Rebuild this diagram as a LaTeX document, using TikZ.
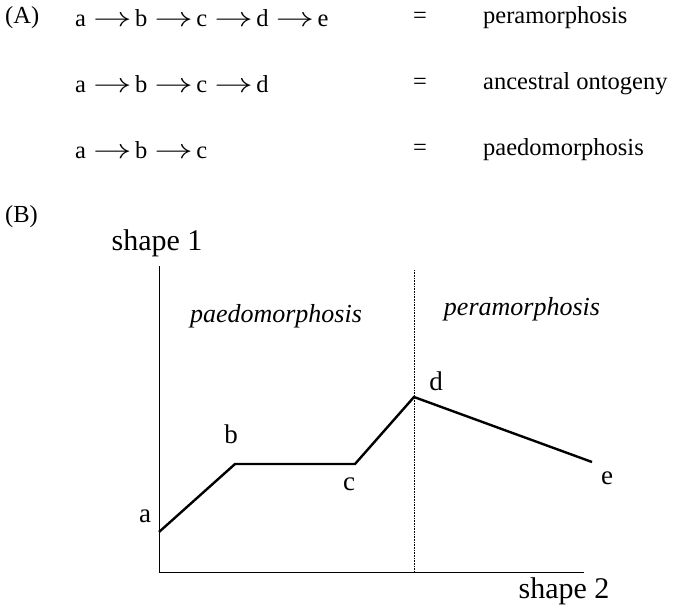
\documentclass[tikz,border=0pt]{standalone}
\usepackage{fontspec}
\setmainfont{Liberation Serif}
\newcommand{\myarr}{\hspace{7pt}\scalebox{1.55}[1.1]{$\rightarrow$}\hspace{3.5pt}}
\begin{document}
\begin{tikzpicture}[x=1pt,y=-1pt,
  txt/.style={inner sep=0pt,font=\fontsize{24.5}{28}\selectfont},
  lbl/.style={inner sep=0pt,font=\fontsize{27}{30}\selectfont},
  axl/.style={inner sep=0pt,font=\fontsize{30}{34}\selectfont},
  itl/.style={inner sep=0pt,font=\fontsize{26}{30}\selectfont\itshape},
  curve/.style={line width=2.4pt,line join=miter},
  axis/.style={line width=0.9pt}]
\useasboundingbox (0,0) rectangle (678,611);
% Part A
\node[txt,anchor=west] (A) at (5,18) {(A)};
\node[txt,anchor=west] (r1) at (75,18) {a\myarr b\myarr c\myarr d\myarr e};
\node[txt,anchor=west] (r2) at (75,84) {a\myarr b\myarr c\myarr d};
\node[txt,anchor=west] (r3) at (75,150) {a\myarr b\myarr c};
\node[txt] (e1) at (420,18) {=};
\node[txt] (e2) at (420,84) {=};
\node[txt] (e3) at (420,150) {=};
\node[txt,anchor=west] (t1) at (483,18) {peramorphosis};
\node[txt,anchor=west] (t2) at (483,84) {ancestral ontogeny};
\node[txt,anchor=west] (t3) at (483,150) {paedomorphosis};
% Part B
\node[txt,anchor=west] (B) at (5,217) {(B)};
\node[axl,anchor=base] (s1) at (157,250) {shape 1};
\node[axl,anchor=base] (s2) at (564,598) {shape 2};
\coordinate (top) at (159,266);
\coordinate (orig) at (159,572);
\coordinate (right) at (584,572);
\coordinate (dtop) at (414,270);
\coordinate (dbot) at (414,572);
\draw[axis] (top) -- (orig) -- (right);
\draw[densely dotted,line width=0.6pt] (dtop) -- (dbot);
\node[itl,anchor=base] (pae) at (276,322) {paedomorphosis};
\node[itl,anchor=base] (per) at (522,315) {peramorphosis};
\coordinate (a) at (159,532);
\coordinate (b) at (235,464);
\coordinate (c) at (355,464);
\coordinate (d) at (414,397);
\coordinate (e) at (592,462);
\draw[curve] (a) -- (b) -- (c) -- (d) -- (e);
\node[lbl] (la) at (145,516) {a};
\node[lbl] (lb) at (231,434) {b};
\node[lbl] (lc) at (349,484) {c};
\node[lbl] (ld) at (436,381) {d};
\node[lbl] (le) at (607,478) {e};
\end{tikzpicture}
\end{document}
